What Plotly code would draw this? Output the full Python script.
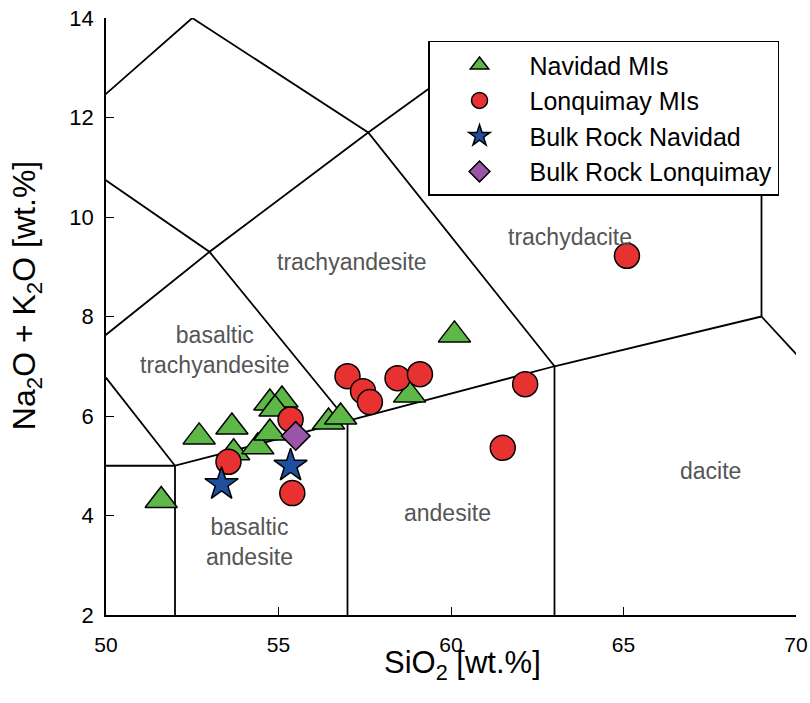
import plotly.graph_objects as go

# ---- Data ----
navidad_sio2 = [51.6, 52.7, 53.65, 53.7, 54.4, 54.75, 55.1, 54.9, 54.75, 56.45, 56.8, 58.8, 60.1]
navidad_alk = [4.3, 5.58, 5.78, 5.26, 5.38, 6.26, 6.32, 6.14, 5.66, 5.88, 5.98, 6.42, 7.63]

lonquimay_sio2 = [53.55, 55.35, 55.4, 57.0, 57.45, 57.65, 58.45, 59.1, 61.5, 62.15, 65.1]
lonquimay_alk = [5.08, 5.93, 4.45, 6.8, 6.5, 6.28, 6.76, 6.84, 5.36, 6.64, 9.22]

bulk_navidad_sio2 = [53.35, 55.35]
bulk_navidad_alk = [4.63, 5.0]

bulk_lonquimay_sio2 = [55.5]
bulk_lonquimay_alk = [5.6]

# TAS field boundaries (Le Bas et al., 1986), each a polyline of (SiO2, alkali) vertices
tas_boundaries = [
    [(45, 5), (52, 5)],
    [(52, 0), (52, 5), (57, 5.9), (63, 7), (69, 8)],
    [(57, 0), (57, 5.9)],
    [(63, 0), (63, 7)],
    [(69, 8), (69, 12)],
    [(69, 8), (77, 2)],
    [(49.4, 7.3), (52, 5)],
    [(49.4, 7.3), (53, 9.3), (57, 5.9)],
    [(48.4, 11.5), (53, 9.3), (57.6, 11.7)],
    [(48.4, 11.5), (52.5, 14), (57.6, 11.7), (63, 7)],
    [(57.6, 11.7), (61, 13.4)],
]

field_labels = ["trachydacite", "trachyandesite", "basaltic<br>trachyandesite",
                "basaltic<br>andesite", "andesite", "dacite"]
field_label_x = [63.45, 57.13, 53.16, 54.17, 59.91, 67.51]
field_label_y = [9.6, 9.1, 7.33, 3.47, 4.05, 4.89]

x_ticks = [50, 55, 60, 65, 70]
y_ticks = [2, 4, 6, 8, 10, 12, 14]

x_title = "SiO<sub>2</sub> [wt.%]"
y_title = "Na<sub>2</sub>O + K<sub>2</sub>O [wt.%]"

FONT = "Liberation Sans, Arial, sans-serif"

fig = go.Figure()

bx, by = [], []
for seg in tas_boundaries:
    for px, py in seg:
        bx.append(px)
        by.append(py)
    bx.append(None)
    by.append(None)

fig.add_trace(go.Scatter(x=bx, y=by, mode="lines", line=dict(color="black", width=1.8),
                         showlegend=False, hoverinfo="skip"))

fig.add_trace(go.Scatter(
    x=navidad_sio2, y=navidad_alk, mode="markers", name="Navidad MIs",
    marker=dict(symbol="triangle-up", size=28, color="#5EB848",
                line=dict(color="black", width=1.5))))
fig.add_trace(go.Scatter(
    x=lonquimay_sio2, y=lonquimay_alk, mode="markers", name="Lonquimay MIs",
    marker=dict(symbol="circle", size=25, color="#E83232",
                line=dict(color="black", width=1.5))))
fig.add_trace(go.Scatter(
    x=bulk_navidad_sio2, y=bulk_navidad_alk, mode="markers", name="Bulk Rock Navidad",
    marker=dict(symbol="star", size=25, color="#1F4F9F",
                line=dict(color="black", width=1.5))))
fig.add_trace(go.Scatter(
    x=bulk_lonquimay_sio2, y=bulk_lonquimay_alk, mode="markers", name="Bulk Rock Lonquimay",
    marker=dict(symbol="diamond", size=22, color="#9A56A6",
                line=dict(color="black", width=1.5))))

for t, x, y in zip(field_labels, field_label_x, field_label_y):
    fig.add_annotation(x=x, y=y, text=t, showarrow=False,
                       font=dict(family=FONT, size=23, color="#555555"))

# axis titles
fig.add_annotation(xref="paper", yref="paper", x=0.516, y=0, yshift=-50,
                   xanchor="center", yanchor="middle", text=x_title, showarrow=False,
                   font=dict(family=FONT, size=31, color="black"))
fig.add_annotation(xref="paper", yref="paper", x=0, xshift=-80, y=0.534,
                   xanchor="center", yanchor="middle", textangle=-90, text=y_title,
                   showarrow=False, font=dict(family=FONT, size=32, color="black"))

fig.update_layout(
    width=810, height=703,
    margin=dict(l=106, r=14, t=18, b=88, autoexpand=False),
    paper_bgcolor="white", plot_bgcolor="white",
    font=dict(family=FONT, color="black"),
    showlegend=True,
    legend=dict(x=0.4667, y=0.962, xanchor="left", yanchor="top",
                bgcolor="white", bordercolor="black", borderwidth=1.5,
                font=dict(family=FONT, size=25, color="black"),
                itemsizing="trace", itemwidth=90,
                entrywidth=330, entrywidthmode="pixels"),
    xaxis=dict(range=[50, 70], tickvals=x_ticks, ticktext=[str(v) for v in x_ticks],
               automargin=False, ticklabeloverflow="allow",
               showgrid=False, zeroline=False, showline=True, linecolor="black", linewidth=1.5,
               ticks="inside", ticklen=8, tickwidth=1.2, tickcolor="black",
               tickfont=dict(family=FONT, size=21, color="black"),
               ticklabelstandoff=10),
    yaxis=dict(range=[2, 14], tickvals=y_ticks, ticktext=[str(v) for v in y_ticks],
               automargin=False, ticklabeloverflow="allow",
               showgrid=False, zeroline=False, showline=True, linecolor="black", linewidth=1.5,
               ticks="inside", ticklen=8, tickwidth=1.2, tickcolor="black",
               tickfont=dict(family=FONT, size=22, color="black"),
               ticklabelstandoff=6),
)

# remove the page's default 8 px body margin so the 810x703 figure fills the window
fig.write_html("out.html", config={"displayModeBar": False},
               post_script="document.body.style.margin='0';document.body.style.overflow='hidden';")
